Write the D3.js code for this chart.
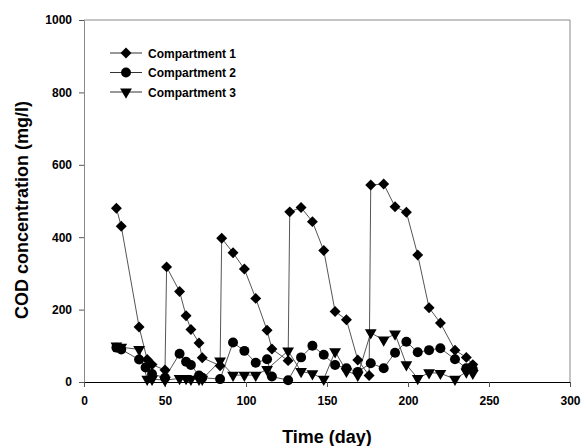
<!DOCTYPE html>
<html>
<head>
<meta charset="utf-8">
<script src="https://cdn.jsdelivr.net/npm/d3@7"></script>
<style>
  body { margin: 0; background: #fff; }
  text { font-family: "Liberation Sans", Arial, sans-serif; font-weight: bold; }
</style>
</head>
<body>
<div id="chart"></div>
<script>
// COD data: [day, mg/l]
var comp1 = [[20,480],[23,430],[34,152],[39,62],[42,48],[50,33],[51,318],[59,250],[63,183],[66,145],[71,108],[73,67],[84,45],
             [85,397],[92,357],[99,312],[106,231],[113,143],[116,91],[126,59],[127,470],[134,482],[141,443],[148,363],[155,195],
             [162,172],[169,61],[176,18],[177,544],[185,547],[192,484],[199,469],[206,351],[213,205],[220,163],[229,88],[236,68],[240,48]];
var comp2 = [[20,95],[23,90],[34,62],[38,40],[42,22],[50,12],[59,78],[63,56],[66,47],[71,18],[73,12],[84,8],[92,109],[99,86],
             [106,53],[113,63],[116,15],[126,5],[134,68],[141,100],[148,75],[155,47],[162,38],[169,28],[177,52],[185,38],[192,81],
             [199,111],[206,82],[213,88],[220,93],[229,63],[236,38],[240,35]];
var comp3 = [[20,100],[23,96],[34,90],[39,8],[42,8],[50,5],[59,10],[63,10],[66,8],[71,8],[73,8],[84,58],[92,19],[99,19],
             [106,19],[113,35],[126,86],[134,29],[141,23],[148,8],[155,84],[162,30],[169,19],[177,136],[185,116],[192,133],
             [199,48],[206,10],[213,26],[220,24],[229,8],[236,28],[240,24]];
var seriesNames = ["Compartment 1", "Compartment 2", "Compartment 3"];
var xTicks = [0, 50, 100, 150, 200, 250, 300];
var yTicks = [0, 200, 400, 600, 800, 1000];

var W = 583, H = 446;
var mLeft = 84, mRight = 570, mTop = 20, mBottom = 382;

var svg = d3.select("#chart").append("svg").attr("width", W).attr("height", H);

var x = d3.scaleLinear().domain([0, 300]).range([mLeft, mRight]);
var y = d3.scaleLinear().domain([0, 1000]).range([mBottom, mTop]);

// frame (top + right) in grey
svg.append("path")
   .attr("d", "M" + mLeft + "," + mTop + "H" + mRight + "V" + mBottom)
   .attr("fill", "none").attr("stroke", "#8a8a8a").attr("stroke-width", 1);

// y axis
var yAxis = svg.append("g").attr("transform", "translate(" + mLeft + ",0)")
   .call(d3.axisLeft(y).tickValues(yTicks).tickFormat(d3.format("d")).tickSize(5).tickPadding(7));
yAxis.select(".domain").attr("stroke", "#8a8a8a");
yAxis.selectAll(".tick line").attr("stroke", "#555");
yAxis.selectAll("text").attr("font-size", 12).attr("fill", "#000");

// x axis
var xAxis = svg.append("g").attr("transform", "translate(0," + mBottom + ")")
   .call(d3.axisBottom(x).tickValues(xTicks).tickFormat(d3.format("d")).tickSize(5).tickPadding(9));
xAxis.select(".domain").attr("stroke", "#000");
xAxis.selectAll(".tick line").attr("stroke", "#555");
xAxis.selectAll("text").attr("font-size", 12).attr("fill", "#000");

// axis titles
svg.append("text").attr("x", (mLeft + mRight) / 2).attr("y", 443)
   .attr("text-anchor", "middle").attr("font-size", 18).text("Time (day)");
svg.append("text").attr("transform", "translate(28," + 210 + ") rotate(-90)")
   .attr("text-anchor", "middle").attr("font-size", 18).text("COD concentration (mg/l)");

var symbols = [
  d3.symbol().type(d3.symbolSquare).size(60),
  d3.symbol().type(d3.symbolCircle).size(78),
  d3.symbol().type(d3.symbolTriangle).size(60)
];
var rot = [45, 0, 180];

var line = d3.line().x(function(d){ return x(d[0]); }).y(function(d){ return y(d[1]); });

var all = [comp1, comp2, comp3];
// lines first, then markers on top
all.forEach(function(data) {
  svg.append("path").datum(data).attr("d", line)
     .attr("fill", "none").attr("stroke", "#555").attr("stroke-width", 1);
});
all.forEach(function(data, i) {
  svg.append("g").selectAll("path").data(data).enter().append("path")
     .attr("d", symbols[i])
     .attr("transform", function(d){ return "translate(" + x(d[0]) + "," + y(d[1]) + ") rotate(" + rot[i] + ")"; })
     .attr("fill", "#000");
});

// legend
var legend = svg.append("g");
seriesNames.forEach(function(name, i) {
  var ly = 53 + i * 19.5;
  legend.append("line").attr("x1", 110).attr("x2", 142).attr("y1", ly).attr("y2", ly)
        .attr("stroke", "#333").attr("stroke-width", 1);
  legend.append("path").attr("d", symbols[i])
        .attr("transform", "translate(126," + ly + ") rotate(" + rot[i] + ")").attr("fill", "#000");
  legend.append("text").attr("x", 148).attr("y", ly + 4.5).attr("font-size", 12).text(name);
});
</script>
</body>
</html>
